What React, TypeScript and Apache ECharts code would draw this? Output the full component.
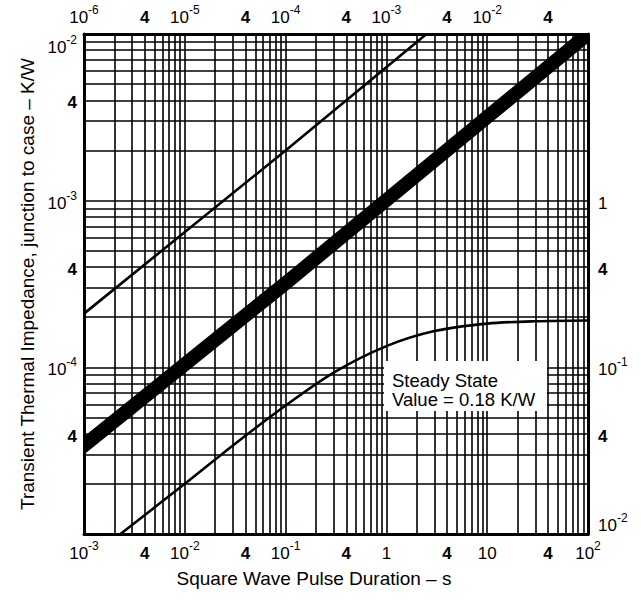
import { useEffect, useRef } from "react";
import * as echarts from "echarts";

// ---------------- Data ----------------
// Thick line: bottom axis (pulse duration, s) vs left axis (K/W)
const mainPulse = [1e-3, 0.1, 100];
const mainImpedance = [3.4e-5, 3.2e-4, 1.0e-2];

// Thin upper line: top axis (s) vs left axis (K/W)
const shortPulse = [1e-6, 1e-4, 2.5e-3];
const shortImpedance = [2.1e-4, 2.0e-3, 1.0e-2];

// Lower curve: bottom axis (s) vs right axis (K/W), steady state 0.18 K/W
const longPulse = [2.3e-3, 0.01, 0.03, 0.1, 0.3, 1, 3, 10, 30, 100];
const longImpedance = [0.01, 0.02, 0.034, 0.059, 0.093, 0.134, 0.165, 0.183, 0.189, 0.191];

// Axis ranges
const bottomRange = [1e-3, 100];
const topRange = [1e-6, 0.1];
const leftRange = [1e-5, 1e-2];
const rightRange = [1e-2, 10];

// Tick labels
const bottomTickValues = [1e-3, 4e-3, 1e-2, 4e-2, 0.1, 0.4, 1, 4, 10, 40, 100];
const bottomTickLabels = ["10^-3", "4", "10^-2", "4", "10^-1", "4", "1", "4", "10", "4", "10^2"];
const topTickValues = [1e-6, 4e-6, 1e-5, 4e-5, 1e-4, 4e-4, 1e-3, 4e-3, 1e-2, 4e-2];
const topTickLabels = ["10^-6", "4", "10^-5", "4", "10^-4", "4", "10^-3", "4", "10^-2", "4"];
const leftTickValues = [1e-2, 4e-3, 1e-3, 4e-4, 1e-4, 4e-5];
const leftTickLabels = ["10^-2", "4", "10^-3", "4", "10^-4", "4"];
const rightTickValues = [1, 0.4, 0.1, 0.04, 0.01];
const rightTickLabels = ["1", "4", "10^-1", "4", "10^-2"];

const xTitle = "Square Wave Pulse Duration – s";
const yTitle = "Transient Thermal Impedance, junction to case – K/W";
const noteLines = ["Steady State", "Value = 0.18 K/W"];

// ---------------- Helpers / styles ----------------
const FONT = "'Liberation Sans', Arial, Helvetica, sans-serif";
const lg = (v: number) => Math.round(Math.log10(v) * 1e9) / 1e9;
// half of the heavy band's vertical thickness, in pixels (style)
const BAND_HALF_PX = 9;

function decadeGrid(min: number, max: number): number[] {
  const out: number[] = [];
  for (let k = Math.round(lg(min)); k < Math.round(lg(max)); k++) {
    for (let m = 1; m <= 9; m++) out.push(lg(m * Math.pow(10, k)));
  }
  out.push(lg(max));
  return out;
}

function toRich(s: string): string {
  const m = s.match(/^10\^(.+)$/);
  if (m) return `{b|10}{s|${m[1]}}`;
  if (s === "4") return `{f|4}`;
  return `{b|${s}}`;
}

function makeFormatter(values: number[], labels: string[], extra?: (i: number, txt: string) => string) {
  return (v: number) => {
    const i = values.findIndex((x) => Math.abs(lg(x) - v) < 1e-6);
    if (i < 0) return "";
    const txt = toRich(labels[i]);
    return extra ? extra(i, txt) : txt;
  };
}

const rich = {
  b: { fontSize: 17, fontFamily: FONT, color: "#000", lineHeight: 22, verticalAlign: "bottom" },
  s: { fontSize: 12, fontFamily: FONT, color: "#000", lineHeight: 12, verticalAlign: "top" },
  f: { fontSize: 17, fontFamily: FONT, color: "#000", fontWeight: "bold", lineHeight: 22, verticalAlign: "bottom" },
  gap: { fontSize: 10, lineHeight: 22 },
};

const frameLine = { show: true, onZero: false, lineStyle: { color: "#000", width: 3 } };
const gridLineStyle = { color: "#000", width: 1.6 };

export default function App() {
  const ref = useRef<HTMLDivElement>(null);

  useEffect(() => {
    if (!ref.current) return;
    const chart = echarts.init(ref.current, undefined, { renderer: "svg" });

    const mainData = mainPulse.map((t, i) => [lg(t), lg(mainImpedance[i])]);

    const option: any = {
      animation: false,
      backgroundColor: "#fff",
      grid: { left: 84, right: 53, top: 34, bottom: 68, containLabel: false, outerBoundsMode: "none" },
      xAxis: [
        {
          type: "value",
          position: "bottom",
          min: lg(bottomRange[0]),
          max: lg(bottomRange[1]),
          axisLine: frameLine,
          axisTick: { show: false, customValues: decadeGrid(bottomRange[0], bottomRange[1]) },
          splitLine: { show: true, lineStyle: gridLineStyle },
          axisLabel: {
            customValues: bottomTickValues.map(lg),
            formatter: makeFormatter(bottomTickValues, bottomTickLabels),
            rich,
            margin: 6,
          },
          name: xTitle,
          nameLocation: "middle",
          nameGap: 35,
          nameTextStyle: { fontSize: 19, fontFamily: FONT, color: "#000", padding: [0, 44, 0, 0] },
        },
        {
          type: "value",
          position: "top",
          min: lg(topRange[0]),
          max: lg(topRange[1]),
          axisLine: frameLine,
          axisTick: { show: false },
          splitLine: { show: false },
          axisLabel: {
            customValues: topTickValues.map(lg),
            formatter: makeFormatter(topTickValues, topTickLabels),
            rich,
            margin: 8,
          },
        },
      ],
      yAxis: [
        {
          type: "value",
          position: "left",
          min: lg(leftRange[0]),
          max: lg(leftRange[1]),
          axisLine: frameLine,
          axisTick: { show: false, customValues: decadeGrid(leftRange[0], leftRange[1]) },
          splitLine: { show: true, lineStyle: gridLineStyle },
          axisLabel: {
            customValues: leftTickValues.map(lg),
            formatter: makeFormatter(leftTickValues, leftTickLabels, (i, t) =>
              i === 0 ? `{gap| }\n${t}` : t
            ),
            rich,
            margin: 7,
          },
          name: yTitle,
          nameLocation: "middle",
          nameGap: 44,
          nameTextStyle: { fontSize: 19, fontFamily: FONT, color: "#000" },
        },
        {
          type: "value",
          position: "right",
          min: lg(rightRange[0]),
          max: lg(rightRange[1]),
          axisLine: frameLine,
          axisTick: { show: false },
          splitLine: { show: false },
          axisLabel: {
            customValues: rightTickValues.map(lg),
            formatter: makeFormatter(rightTickValues, rightTickLabels, (i, t) =>
              i === rightTickValues.length - 1 ? `${t}\n{gap| }` : t
            ),
            rich,
            margin: 10,
          },
        },
      ],
      graphic: [
        {
          type: "rect",
          z: 50,
          shape: { x: 384, y: 361, width: 163, height: 50 },
          style: { fill: "#fff" },
        },
        {
          type: "text",
          z: 51,
          x: 392,
          y: 371,
          style: {
            text: noteLines.join("\n"),
            fontSize: 18.5,
            lineHeight: 19,
            fontFamily: FONT,
            fill: "#000",
            verticalAlign: "top",
            align: "left",
          },
        },
      ],
      series: [
        {
          // heavy band, drawn as a filled strip along the data line
          type: "custom",
          coordinateSystem: "cartesian2d",
          xAxisIndex: 0,
          yAxisIndex: 0,
          clip: true,
          data: mainData,
          encode: { x: 0, y: 1 },
          z: 3,
          renderItem: (params: any, api: any) => {
            if (params.dataIndex !== 0) return null;
            const pts = mainData.map((d) => api.coord(d));
            const upper = pts.map((p: number[]) => [p[0], p[1] - BAND_HALF_PX]);
            const lower = pts.map((p: number[]) => [p[0], p[1] + BAND_HALF_PX]).reverse();
            return {
              type: "polygon",
              shape: { points: upper.concat(lower) },
              style: { fill: "#000" },
            };
          },
        },
        {
          type: "line",
          xAxisIndex: 1,
          yAxisIndex: 0,
          data: shortPulse.map((t, i) => [lg(t), lg(shortImpedance[i])]),
          showSymbol: false,
          symbol: "none",
          clip: true,
          lineStyle: { color: "#000", width: 2.6 },
          z: 3,
        },
        {
          type: "line",
          xAxisIndex: 0,
          yAxisIndex: 1,
          data: longPulse.map((t, i) => [lg(t), lg(longImpedance[i])]),
          showSymbol: false,
          symbol: "none",
          smooth: 0.3,
          clip: true,
          lineStyle: { color: "#000", width: 2.6, join: "round" },
          z: 3,
        },
      ],
    };

    chart.setOption(option);
    return () => chart.dispose();
  }, []);

  return (
    <div
      ref={ref}
      style={{ position: "fixed", left: 0, top: 0, width: 641, height: 602, background: "#fff" }}
    />
  );
}
